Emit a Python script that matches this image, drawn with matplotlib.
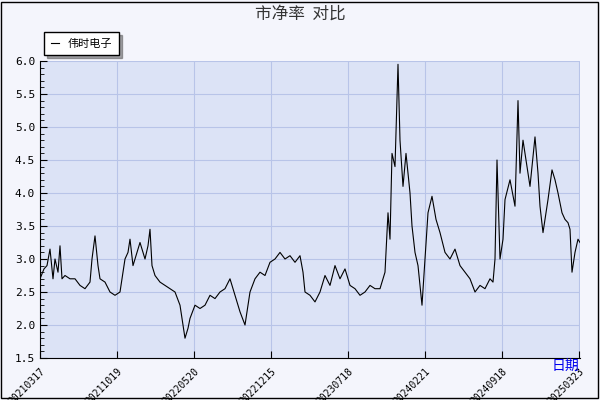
import matplotlib
matplotlib.use("Agg")
import matplotlib.pyplot as plt
from matplotlib.patches import Rectangle

plt.rcParams['font.family'] = ['Noto Sans CJK SC', 'DejaVu Sans']

px = [40,44,47,50,53,55,58,60,62,65,70,75,80,85,90,92,95,98,100,105,110,115,120,125,128,130,133,135,140,145,148,150,152,155,160,165,170,175,180,183,185,188,190,195,200,205,210,215,220,225,230,235,240,245,250,255,260,265,270,275,280,285,290,295,300,303,305,310,315,320,325,330,335,340,345,350,355,360,365,370,375,380,385,388,390,392,395,398,400,403,406,410,412,415,418,420,422,425,428,432,436,440,445,450,455,460,465,470,475,480,485,490,493,495,497,500,503,505,510,515,518,520,523,525,530,535,538,540,543,548,552,555,558,562,565,568,570,572,575,578,580]
vals = [2.7,2.85,2.9,3.15,2.7,3.0,2.8,3.2,2.7,2.75,2.7,2.7,2.6,2.55,2.65,3.0,3.35,2.9,2.7,2.65,2.5,2.45,2.5,3.0,3.1,3.3,2.9,3.0,3.25,3.0,3.2,3.45,2.9,2.75,2.65,2.6,2.55,2.5,2.3,2.0,1.8,1.95,2.1,2.3,2.25,2.3,2.45,2.4,2.5,2.55,2.7,2.45,2.2,2.0,2.5,2.7,2.8,2.75,2.95,3.0,3.1,3.0,3.05,2.95,3.05,2.8,2.5,2.45,2.35,2.5,2.75,2.6,2.9,2.7,2.85,2.6,2.55,2.45,2.5,2.6,2.55,2.55,2.8,3.7,3.3,4.6,4.4,5.95,4.8,4.1,4.6,4.0,3.5,3.1,2.9,2.6,2.3,3.0,3.7,3.95,3.6,3.4,3.1,3.0,3.15,2.9,2.8,2.7,2.5,2.6,2.55,2.7,2.65,3.0,4.5,3.0,3.3,3.9,4.2,3.8,5.4,4.3,4.8,4.6,4.1,4.85,4.3,3.8,3.4,3.9,4.35,4.2,4.0,3.7,3.6,3.55,3.45,2.8,3.1,3.3,3.25]
tick_labels = ["20210317","20211019","20220520","20221215","20230718","20240221","20240918","20250323"]
tick_px = [40,117,194,271,348,425,502,579]
xs = [(p-40)/540 for p in px]
txs = [(p-40)/540 for p in tick_px]

fig = plt.figure(figsize=(6,4), dpi=100, facecolor='#f4f5fc')
fig.add_artist(Rectangle((0.002,0.004),0.994,0.992, transform=fig.transFigure, fill=False, ec='black', lw=1))
ax = fig.add_axes([40/600, 1-358/400, 540/600, 297/400])
ax.set_facecolor('#dce3f6')
ax.plot(xs, vals, color='black', lw=0.8, label='伟时电子')
ax.set_xlim(0,1)
ax.set_ylim(1.5,6.0)
ax.set_yticks([1.5,2.0,2.5,3.0,3.5,4.0,4.5,5.0,5.5,6.0])
ax.set_yticks([1.5+0.1*i for i in range(46)], minor=True)
ax.set_xticks(txs)
ax.set_xticklabels(tick_labels, rotation=45, ha='right', rotation_mode='anchor', fontsize=7, family='DejaVu Sans Mono')
ax.tick_params(axis='y', labelsize=8, direction='in', length=5)
ax.tick_params(axis='y', which='minor', direction='in', length=3)
ax.tick_params(axis='x', direction='in', length=5, pad=6)
for lab in ax.get_yticklabels(): lab.set_family('DejaVu Sans Mono')
ax.yaxis.set_major_formatter(matplotlib.ticker.FormatStrFormatter('%.1f'))
ax.grid(True, color='#b8c4e8', lw=0.8)
for s in ['top','right']: ax.spines[s].set_visible(False)
fig.text(0.5, 0.965, '市净率  对比', ha='center', va='center', fontsize=12, color='#333333')
fig.text(0.965, 0.085, '日期', ha='right', va='center', fontsize=10, color='#0000ee')
leg = ax.legend(loc='lower left', bbox_to_anchor=(-0.002,1.0), frameon=True, fancybox=False, shadow=True, fontsize=8, handlelength=0.7, borderpad=0.6)
leg.get_frame().set_edgecolor('black')
fig.savefig('out.png', dpi=100, facecolor=fig.get_facecolor())
